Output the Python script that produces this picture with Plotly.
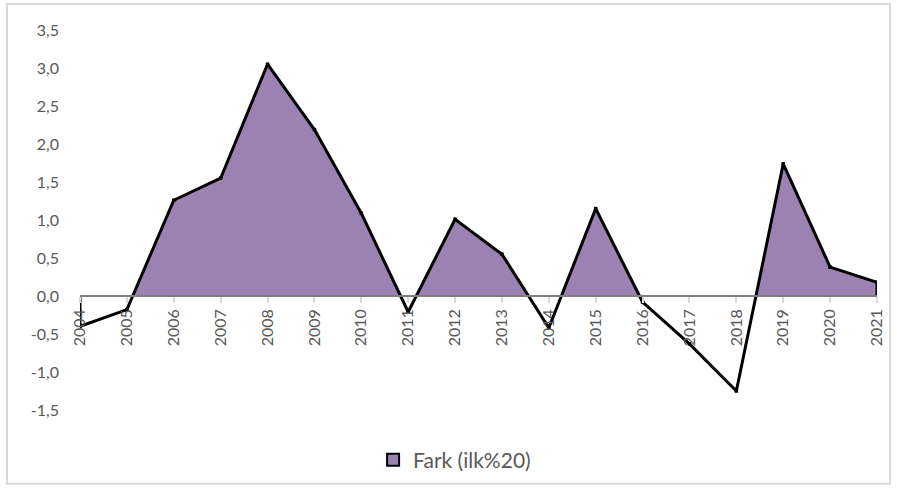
import numpy as np
import plotly.graph_objects as go

years = ["2004", "2005", "2006", "2007", "2008", "2009", "2010", "2011", "2012",
         "2013", "2014", "2015", "2016", "2017", "2018", "2019", "2020", "2021"]
fark = [-0.40, -0.18, 1.26, 1.55, 3.05, 2.19, 1.09, -0.21, 1.01,
        0.55, -0.42, 1.15, -0.08, -0.63, -1.25, 1.74, 0.38, 0.18]
series_name = "Fark (ilk%20)"
y_ticks = [-1.5, -1.0, -0.5, 0.0, 0.5, 1.0, 1.5, 2.0, 2.5, 3.0, 3.5]
y_ticktext = [("%.1f" % t).replace(".", ",") for t in y_ticks]

# Build path including zero crossings (derived from data)
idx = np.arange(len(fark), dtype=float)
v = np.array(fark, dtype=float)
px, py = [idx[0]], [0.0]
for i in range(len(v)):
    px.append(idx[i]); py.append(v[i])
    if i < len(v) - 1 and v[i] * v[i + 1] < 0:
        t = v[i] / (v[i] - v[i + 1])
        px.append(idx[i] + t); py.append(0.0)
px.append(idx[-1]); py.append(0.0)
px = np.array(px); py = np.array(py)
base = np.minimum(py, 0.0)

FILL = "#9b82b3"
fig = go.Figure()
fig.add_trace(go.Scatter(x=px, y=base, mode="lines", line=dict(width=0),
                         showlegend=False, hoverinfo="skip"))
fig.add_trace(go.Scatter(x=px, y=py, mode="lines", name=series_name,
                         fill="tonexty", fillcolor=FILL, showlegend=False,
                         line=dict(color="black", width=3)))
fig.add_trace(go.Scatter(x=idx, y=v, mode="markers", name=series_name,
                         marker=dict(symbol="square", size=1, color=FILL,
                                     line=dict(color="black", width=2.5)),
                         showlegend=True, hoverinfo="skip"))

FONT = "Lato, 'Noto Sans', sans-serif"
fig.update_layout(
    width=897, height=491,
    margin=dict(l=80, r=20, t=30, b=80),
    paper_bgcolor="white", plot_bgcolor="white",
    font=dict(family=FONT, size=16, color="#595959"),
    showlegend=True,
    legend=dict(orientation="h", x=0.470, xanchor="center", y=-0.129, yanchor="middle",
                font=dict(size=21, color="#595959"), itemsizing="constant",
                itemwidth=30, tracegroupgap=0),
    xaxis=dict(range=[0, len(years) - 1], tickvals=list(range(len(years))), ticktext=years,
               tickangle=-90, showgrid=False, zeroline=False,
               showline=True, linecolor="#7f7f7f", linewidth=1.5,
               ticks="outside", ticklen=6, tickcolor="#d9d9d9", tickwidth=1.5,
               anchor="free", position=0.3, tickfont=dict(size=16, color="#595959")),
    yaxis=dict(range=[-1.5, 3.5], tickvals=y_ticks, ticktext=y_ticktext,
               showgrid=False, zeroline=False, showline=False, ticks="",
               ticklabelstandoff=20, tickfont=dict(size=16, color="#595959")),
    shapes=[dict(type="rect", xref="paper", yref="paper",
                 x0=(7 - 80) / 797, x1=(890 - 80) / 797,
                 y0=(411 - 485) / 381, y1=(411 - 4) / 381,
                 line=dict(color="#d9d9d9", width=2), fillcolor="rgba(0,0,0,0)",
                 layer="below")],
)

fig.write_html("out.html", config={"displayModeBar": False},
               post_script="document.body.style.margin='0';")
